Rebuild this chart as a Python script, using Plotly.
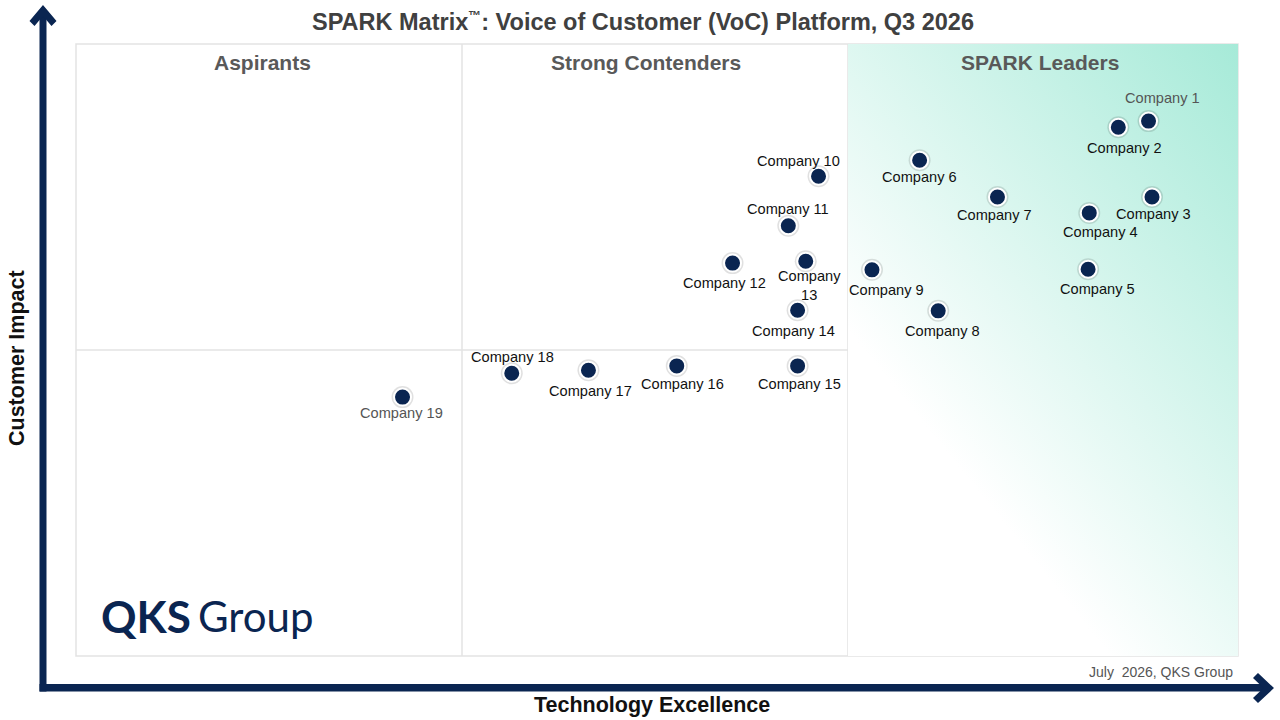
import base64
import plotly.graph_objects as go

# ---------------- data ----------------
companies = ["Company 1", "Company 2", "Company 3", "Company 4", "Company 5",
             "Company 6", "Company 7", "Company 8", "Company 9", "Company 10",
             "Company 11", "Company 12", "Company 13", "Company 14", "Company 15",
             "Company 16", "Company 17", "Company 18", "Company 19"]
technology_excellence = [92.3, 89.7, 92.6, 87.2, 87.1, 72.6, 79.3, 74.2, 68.5, 63.9,
                         61.3, 56.5, 62.8, 62.1, 62.1, 51.7, 44.1, 37.5, 28.1]
customer_impact = [87.4, 86.4, 75.0, 72.4, 63.2, 81.0, 75.0, 56.4, 63.1, 78.4,
                   70.3, 64.2, 64.5, 56.5, 47.4, 47.4, 46.7, 46.2, 42.3]
quadrants = ["Aspirants", "Strong Contenders", "SPARK Leaders"]
title_text = "SPARK Matrix<sup><span style='font-size:13px'>™</span></sup>: Voice of Customer (VoC) Platform, Q3 2026"
footer_text = "July  2026, QKS Group"

# ---------------- layout helpers (pixel geometry) ----------------
W, H = 1280, 720
L, R, T, B = 76, 1238, 44, 656
NAVY = "#0a2551"
FONT = "Liberation Sans, Arial"


def pxx(x):
    return (x - L) / (R - L)


def pxy(y):
    return (B - y) / (B - T)


def path(points):
    return "M " + " L ".join(f"{pxx(a):.5f},{pxy(b):.5f}" for a, b in points) + " Z"


DIV1 = pxx(462) * 100
DIV2 = pxx(848) * 100

# label offsets (dx, dy) in screen px relative to the dot (y down)
label_offsets = [(14, -23), (6, 21), (1, 17), (11, 19), (9, 20),
                 (0, 17), (-3, 18), (4, 20), (15, 20), (-20, -15),
                 (0, -17), (-8, 20), (4, 24), (-4, 21), (2, 18),
                 (6, 18), (2, 21), (1, -16), (-1, 16)]
label_colors = ["#555555"] + ["#111111"] * 17 + ["#555555"]

fig = go.Figure()

# soft halo under markers
fig.add_trace(go.Scatter(
    x=technology_excellence, y=customer_impact, mode="markers",
    marker=dict(size=22, color="rgba(0,0,0,0.12)", line=dict(width=0)),
    hoverinfo="skip", showlegend=False))
fig.add_trace(go.Scatter(
    x=technology_excellence, y=customer_impact, mode="markers",
    text=companies, hoverinfo="text",
    marker=dict(size=17, color=NAVY, line=dict(color="white", width=2)),
    showlegend=False))

annotations = []
for name, xv, yv, (dx, dy), col in zip(companies, technology_excellence,
                                       customer_impact, label_offsets, label_colors):
    txt = name.replace(" ", "<br>") if name == "Company 13" else name
    annotations.append(dict(x=xv, y=yv, xref="x", yref="y", text=txt, showarrow=False,
                            xshift=dx, yshift=-dy, xanchor="center", yanchor="middle",
                            font=dict(family=FONT, size=14.6, color=col)))

# quadrant titles
for q, cx in zip(quadrants, [262, 646, 1040]):
    annotations.append(dict(x=pxx(cx), y=pxy(62), xref="paper", yref="paper", text=f"<b>{q}</b>",
                            showarrow=False, xanchor="center", yanchor="middle",
                            font=dict(family=FONT, size=21, color="#595959")))

# axis titles
annotations.append(dict(x=pxx(652), y=pxy(705), xref="paper", yref="paper",
                        text="<b>Technology Excellence</b>", showarrow=False,
                        xanchor="center", yanchor="middle",
                        font=dict(family=FONT, size=21.5, color="#111111")))
annotations.append(dict(x=pxx(17), y=pxy(358), xref="paper", yref="paper",
                        text="<b>Customer Impact</b>", showarrow=False, textangle=-90,
                        xanchor="center", yanchor="middle",
                        font=dict(family=FONT, size=21.5, color="#111111")))
# title
annotations.append(dict(x=pxx(643), y=pxy(22), xref="paper", yref="paper",
                        text=f"<b>{title_text}</b>", showarrow=False,
                        xanchor="center", yanchor="middle",
                        font=dict(family=FONT, size=23.5, color="#404040")))
# footer
annotations.append(dict(x=pxx(1235), y=pxy(672), xref="paper", yref="paper",
                        text=footer_text, showarrow=False, xanchor="right", yanchor="middle",
                        font=dict(family=FONT, size=14, color="#555555")))
# logo
annotations.append(dict(x=pxx(99), y=pxy(616), xref="paper", yref="paper",
                        text="<b>QKS</b>", showarrow=False, xanchor="left", yanchor="middle",
                        font=dict(family="Lato", size=44, color=NAVY)))
annotations.append(dict(x=pxx(196), y=pxy(616), xref="paper", yref="paper",
                        text="Group", showarrow=False, xanchor="left", yanchor="middle",
                        font=dict(family="Lato", size=42, color=NAVY)))

shapes = []
# quadrant dividers and frame
grid = "#e3e3e3"
shapes.append(dict(type="line", xref="x", yref="paper", x0=DIV1, x1=DIV1, y0=0, y1=1,
                   line=dict(color=grid, width=1.5), layer="below"))
shapes.append(dict(type="line", xref="x", yref="paper", x0=DIV2, x1=DIV2, y0=0, y1=1,
                   line=dict(color=grid, width=1.5), layer="below"))
shapes.append(dict(type="line", xref="paper", yref="y", x0=0, x1=1, y0=50, y1=50,
                   line=dict(color=grid, width=1.5), layer="below"))
shapes.append(dict(type="rect", xref="paper", yref="paper", x0=0, x1=1, y0=0, y1=1,
                   line=dict(color=grid, width=1.5), layer="below"))

# axis arrows
shapes.append(dict(type="path", xref="paper", yref="paper",
                   path=path([(39.5, 14), (46.5, 14), (46.5, 691.5), (39.5, 691.5)]),
                   fillcolor=NAVY, line=dict(width=0)))
shapes.append(dict(type="path", xref="paper", yref="paper",
                   path=path([(39.5, 684), (1265, 684), (1265, 691.5), (39.5, 691.5)]),
                   fillcolor=NAVY, line=dict(width=0)))
shapes.append(dict(type="path", xref="paper", yref="paper",
                   path=path([(43, 5), (56.5, 21), (51.5, 26), (43, 16), (34.5, 26), (29.5, 21)]),
                   fillcolor=NAVY, line=dict(width=0)))
shapes.append(dict(type="path", xref="paper", yref="paper",
                   path=path([(1274, 688), (1258, 673), (1253, 678), (1263.5, 688), (1253, 698), (1258, 703)]),
                   fillcolor=NAVY, line=dict(width=0)))

# gradient for leaders column
svg = ("<svg xmlns='http://www.w3.org/2000/svg' width='390' height='612' viewBox='0 0 390 612' "
       "preserveAspectRatio='none'><defs><linearGradient id='g' gradientUnits='userSpaceOnUse' "
       "x1='0' y1='286' x2='377' y2='-17'><stop offset='0' stop-color='#ffffff'/>"
       "<stop offset='1' stop-color='#a6ead8'/></linearGradient></defs>"
       "<rect width='390' height='612' fill='url(#g)'/></svg>")
src = "data:image/svg+xml;base64," + base64.b64encode(svg.encode()).decode()
images = [dict(source=src, xref="x", yref="y", x=DIV2, y=100, sizex=100 - DIV2, sizey=100,
               sizing="stretch", xanchor="left", yanchor="top", layer="below")]

fig.update_layout(
    width=W, height=H,
    margin=dict(l=L, r=W - R, t=T, b=H - B, pad=0),
    paper_bgcolor="white", plot_bgcolor="rgba(0,0,0,0)",
    xaxis=dict(range=[0, 100], showgrid=False, zeroline=False, showticklabels=False,
               showline=False, fixedrange=True),
    yaxis=dict(range=[0, 100], showgrid=False, zeroline=False, showticklabels=False,
               showline=False, fixedrange=True),
    annotations=annotations, shapes=shapes, images=images,
    showlegend=False,
)

fig.write_html("out.html", config={"displayModeBar": False},
               post_script="document.body.style.margin='0';document.body.style.overflow='hidden';")
